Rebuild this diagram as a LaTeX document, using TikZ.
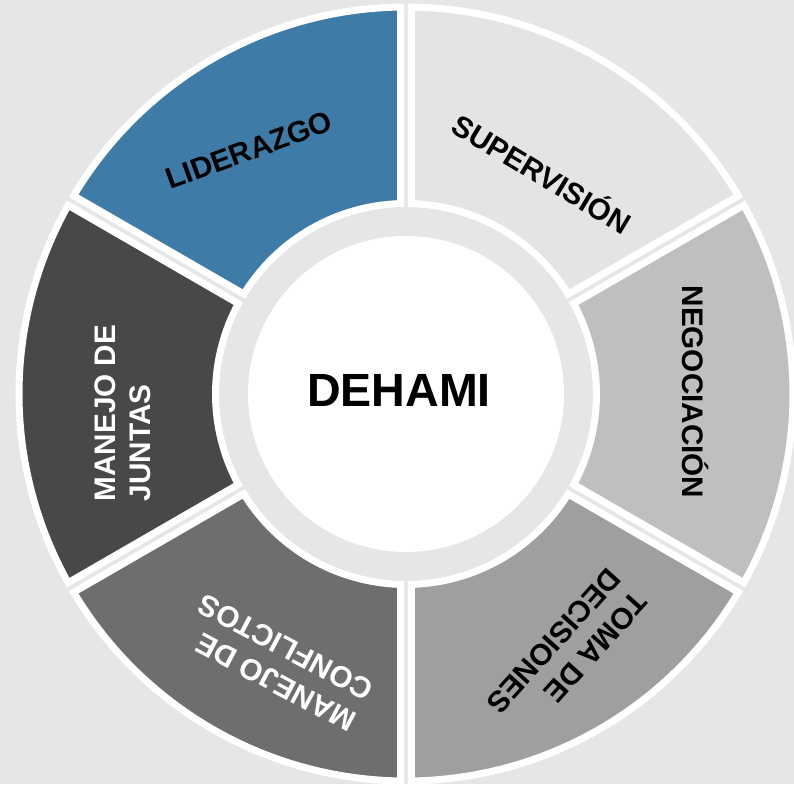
\documentclass[tikz,border=0pt]{standalone}
\usepackage{fontspec}
\setmainfont{Liberation Sans}
\definecolor{bgc}{HTML}{E6E6E6}
\definecolor{lidc}{HTML}{3E7BA6}
\definecolor{supc}{HTML}{E4E4E4}
\definecolor{negc}{HTML}{BFBFBF}
\definecolor{tomc}{HTML}{9F9F9F}
\definecolor{conc}{HTML}{6E6E6E}
\definecolor{junc}{HTML}{484848}
% outer line radius 387, inner 190.5, offset 5.5
\newcommand\ringseg[3]{%
  \draw[segbox, fill=#3] (#1+0.814:387) arc[start angle=#1+0.814, end angle=#2-0.814, radius=387pt]
    -- (#2-1.654:190.5) arc[start angle=#2-1.654, end angle=#1+1.654, radius=190.5pt] -- cycle;}
\begin{document}
\begin{tikzpicture}[x=1pt,y=1pt,
  segbox/.style={draw=white, line width=7pt, line join=miter},
  lbl/.style={font=\fontsize{29.7}{35.5}\selectfont\bfseries, align=left, inner sep=0pt},
  corebox/.style={circle, fill=white, inner sep=0pt, minimum size=316pt}]
\fill[bgc] (-406,394) rectangle (388,-390);
\useasboundingbox (-406,394) rectangle (388,-390);
\ringseg{90}{150}{lidc}
\ringseg{30}{90}{supc}
\ringseg{-30}{30}{negc}
\ringseg{-90}{-30}{tomc}
\ringseg{210}{270}{conc}
\ringseg{150}{210}{junc}
\node[corebox] (core) at (0,0) {};
\node[font=\fontsize{46.6}{50}\selectfont\bfseries, inner sep=0pt] (title) at (-7,4) {DEHAMI};
\node[lbl, rotate=20] (lid) at (-157,244) {LIDERAZGO};
\node[lbl, rotate=-31] (sup) at (137,222) {SUPERVISIÓN};
\node[lbl, rotate=-90] (neg) at (290,2) {NEGOCIACIÓN};
\node[lbl, rotate=-132] (tom) at (161,-259) {TOMA DE\\DECISIONES};
\node[lbl, rotate=152, text=white] (con) at (-129,-269) {MANEJO DE\\CONFLICTOS};
\node[lbl, rotate=90, text=white] (jun) at (-283,-19) {MANEJO DE\\JUNTAS};
\end{tikzpicture}
\end{document}
